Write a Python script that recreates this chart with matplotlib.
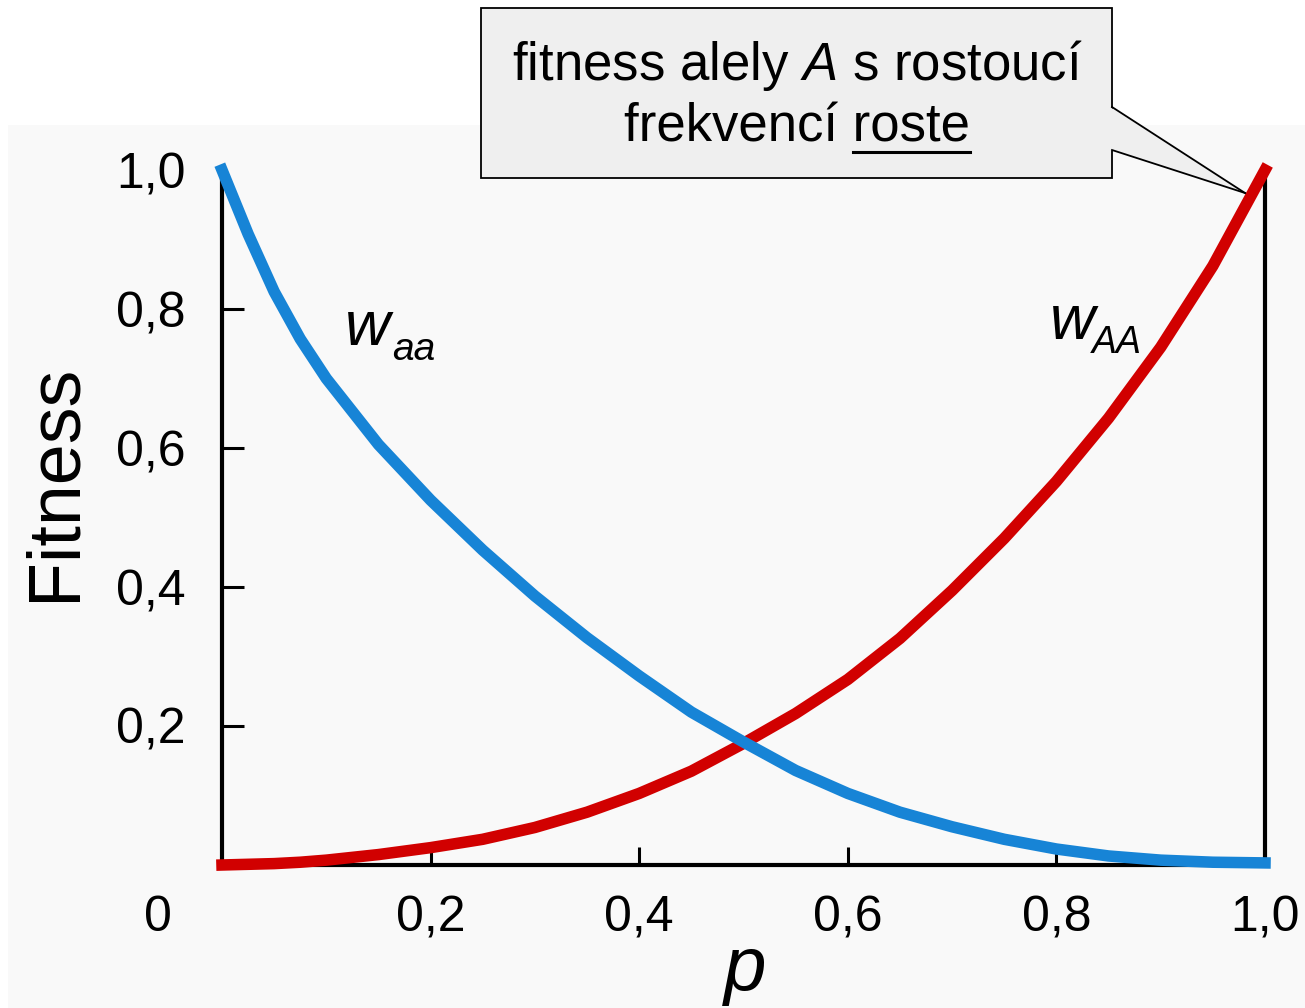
import matplotlib
matplotlib.use("Agg")
import matplotlib.pyplot as plt
from matplotlib.patches import Rectangle, Polygon
from matplotlib.lines import Line2D

# values
p = [0.0, 0.025, 0.05, 0.075, 0.10, 0.15, 0.20, 0.25, 0.30, 0.35, 0.40, 0.45, 0.50,
     0.55, 0.60, 0.65, 0.70, 0.75, 0.80, 0.85, 0.90, 0.95, 1.0]
w_AA = [0.0, 0.001, 0.002, 0.004, 0.007, 0.015, 0.025, 0.037, 0.054, 0.076, 0.103, 0.135, 0.175,
        0.218, 0.267, 0.326, 0.395, 0.470, 0.552, 0.643, 0.745, 0.862, 1.0]
w_aa = [1.0, 0.908, 0.825, 0.757, 0.700, 0.605, 0.525, 0.453, 0.387, 0.327, 0.272, 0.220, 0.177,
        0.136, 0.103, 0.076, 0.055, 0.037, 0.023, 0.013, 0.007, 0.004, 0.003]

x_ticks = [0.2, 0.4, 0.6, 0.8, 1.0]
x_tick_labels = ["0,2", "0,4", "0,6", "0,8", "1,0"]
y_ticks = [0.2, 0.4, 0.6, 0.8, 1.0]
y_tick_labels = ["0,2", "0,4", "0,6", "0,8", "1,0"]

callout_line1 = "fitness alely $A$ s rostoucí"
callout_line2 = "frekvencí roste"
underlined_word = "roste"

plt.rcParams["font.family"] = ["Liberation Sans", "DejaVu Sans"]
plt.rcParams["mathtext.fontset"] = "custom"
plt.rcParams["mathtext.rm"] = "Liberation Sans"
plt.rcParams["mathtext.it"] = "Liberation Sans:italic"

W, H = 1305, 1008
fig = plt.figure(figsize=(W / 100, H / 100), dpi=100)
fig.patch.set_facecolor("white")


def fx(px):
    return px / W


def fy(py):
    return 1 - py / H


# light grey panel behind the chart
fig.patches.append(Rectangle((fx(8), 0), 1 - fx(8), fy(125), transform=fig.transFigure,
                             facecolor="#f9f9f9", edgecolor="none", zorder=-10))

ax = fig.add_axes([fx(222), fy(865), fx(1265) - fx(222), fy(170) - fy(865)])
ax.set_zorder(1)
ax.patch.set_alpha(0)

ax.plot(p, w_AA, color="#d10000", lw=8.3, clip_on=False, zorder=5, solid_joinstyle="round")
ax.plot(p, w_aa, color="#1784d6", lw=8.3, clip_on=False, zorder=6, solid_joinstyle="round")

ax.set_xlim(0, 1)
ax.set_ylim(0, 1)
ax.spines["top"].set_visible(False)
for s in ["left", "right", "bottom"]:
    ax.spines[s].set_linewidth(3)
    ax.spines[s].set_color("black")

ax.set_xticks(x_ticks)
ax.set_xticklabels(x_tick_labels)
ax.set_yticks(y_ticks)
ax.set_yticklabels(y_tick_labels)
ax.tick_params(axis="x", direction="in", length=13, width=2.2, labelsize=36, pad=22)
ax.tick_params(axis="y", direction="in", length=16, width=2.2, labelsize=36, pad=26)
ax.yaxis.get_major_ticks()[-1].tick1line.set_visible(False)
ax.xaxis.get_major_ticks()[-1].tick1line.set_visible(False)

# curve labels
ax.text(0.118, 0.748, "w", style="italic", fontsize=45, ha="left", va="baseline")
ax.text(0.1635, 0.727, "aa", style="italic", fontsize=28, ha="left", va="baseline")
ax.text(0.794, 0.757, "w", style="italic", fontsize=45, ha="left", va="baseline")
ax.text(0.834, 0.737, "AA", style="italic", fontsize=27, ha="left", va="baseline")

# origin label and axis titles
fig.text(fx(158), fy(918), "0", fontsize=36, ha="center", va="center")
fig.text(fx(55), fy(482), "Fitness", fontsize=53, rotation=90, ha="center", va="center")
fig.text(fx(745), fy(990), "p", style="italic", fontsize=55, ha="center", va="baseline")

# callout box
fig.patches.append(Rectangle((fx(481), fy(178)), (1112 - 481) / W, (178 - 8) / H,
                             transform=fig.transFigure, facecolor="#efefef",
                             edgecolor="black", linewidth=1.3, zorder=10))
fig.patches.append(Polygon([(fx(1110), fy(107)), (fx(1245), fy(193)), (fx(1110), fy(150))],
                           closed=True, transform=fig.transFigure, facecolor="#efefef",
                           edgecolor="none", zorder=11))
for y0 in (107, 150):
    fig.lines.append(Line2D([fx(1112), fx(1245)], [fy(y0), fy(193)], transform=fig.transFigure,
                            color="black", linewidth=1.3, zorder=12))

fig.text(fx(797), fy(80), callout_line1, fontsize=38, ha="center", va="baseline", zorder=13)
t2 = fig.text(fx(797), fy(142), callout_line2, fontsize=38, ha="center", va="baseline", zorder=13)

# underline the last word
renderer = fig.canvas.get_renderer()
bb = t2.get_window_extent(renderer)
tmp = fig.text(0, 0, underlined_word, fontsize=38)
word_w = tmp.get_window_extent(renderer).width
tmp.remove()
fig.lines.append(Line2D([(bb.x1 - word_w) / W, bb.x1 / W], [fy(152), fy(152)],
                        transform=fig.transFigure, color="black", linewidth=2.2, zorder=13))

fig.savefig("out.png", dpi=100)
